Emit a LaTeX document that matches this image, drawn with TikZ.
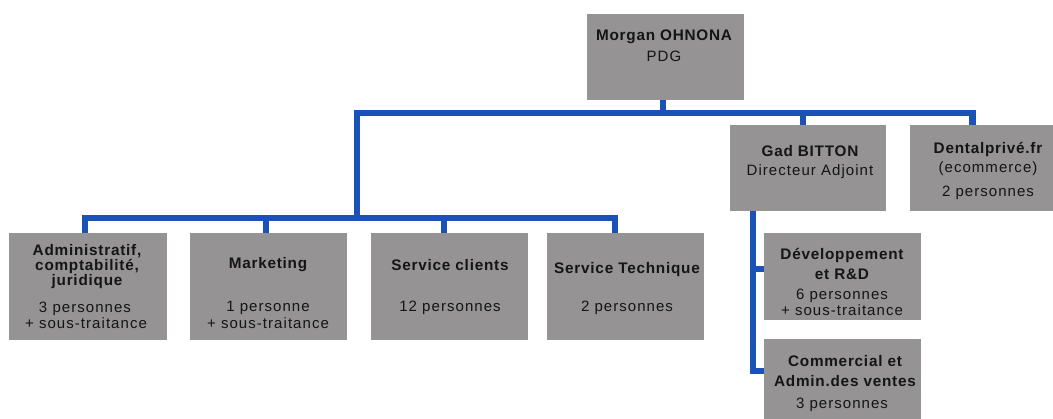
\documentclass[tikz,border=0pt]{standalone}
\usepackage{fontspec}
\setmainfont{Liberation Sans}
\newfontfamily\bodyfont{Liberation Sans}[LetterSpace=7]
\newfontfamily\headfont{Liberation Sans}[LetterSpace=5]
\definecolor{boxgray}{HTML}{959393}
\definecolor{linkblue}{HTML}{1B52B7}
\definecolor{textcol}{HTML}{151515}
\begin{document}
\begin{tikzpicture}[x=1pt,y=-1pt,
  orgbox/.style={draw=none,fill=boxgray,inner sep=0pt,anchor=north west},
  topbox/.style={orgbox,minimum width=157pt,minimum height=86pt},
  lowbox/.style={orgbox,minimum width=157pt,minimum height=107pt},
  link/.style={draw=linkblue,line width=6.5pt,line join=miter},
  txt/.style={inner sep=0pt,anchor=base,text=textcol,font={\bodyfont\fontsize{15pt}{18pt}\selectfont}},
  head/.style={inner sep=0pt,anchor=base,text=textcol,font={\headfont\bfseries\fontsize{15.3pt}{18pt}\selectfont}}]
\clip (0,0) rectangle (1053,418);
\useasboundingbox (0,0) rectangle (1053,418);
\fill[white] (0,0) rectangle (1053,418);

% boxes
\node[topbox] (pdg) at (587,14) {};
\node[topbox,minimum width=156pt] (gad) at (730,125) {};
\node[topbox] (dental) at (910,125) {};
\node[lowbox,minimum width=158pt] (admin) at (9,233) {};
\node[lowbox] (mkt) at (190,233) {};
\node[lowbox] (sc) at (371,233) {};
\node[lowbox] (st) at (547,233) {};
\node[orgbox,minimum width=157pt,minimum height=87pt] (dev) at (764,233) {};
\node[orgbox,minimum width=157pt,minimum height=90pt] (com) at (764,339) {};

% junctions
\coordinate (j1) at (357,113);
\coordinate (j2) at (357,218);

% connectors
\draw[link] ([xshift=-2.5pt]pdg.south) -- ([xshift=-2.5pt]pdg.south |- j1);
\draw[link] (j2) -- (j1) -| ([xshift=-16pt]dental.north);
\draw[link] ([xshift=-5pt]gad.north) -- ([xshift=-5pt]gad.north |- j1);
\draw[link] ([xshift=-3pt]admin.north) |- (j2) -| ([xshift=-10.5pt]st.north);
\draw[link] ([xshift=-2.5pt]mkt.north) -- ([xshift=-2.5pt]mkt.north |- j2);
\draw[link] ([xshift=-5.5pt]sc.north) -- ([xshift=-5.5pt]sc.north |- j2);
\draw[link] ([xshift=23pt]gad.south west) |- ([yshift=-32pt]com.north west);
\coordinate (gadline) at ([xshift=23pt]gad.south west);
\draw[link] ([yshift=-36pt]dev.north west) -- ([yshift=-36pt]dev.north west -| gadline);

% texts
\node[head] (pdg1) at (664,40) {Morgan OHNONA};
\node[txt]  (pdg2) at (664,61) {PDG};

\node[head] (gad1) at (810,156) {Gad BITTON};
\node[txt]  (gad2) at (810,175) {Directeur Adjoint};

\node[head] (den1) at (988,153) {Dentalprivé.fr};
\node[txt]  (den2) at (988,172) {(ecommerce)};
\node[txt]  (den3) at (988,196) {2 personnes};

\node[head] (adm1) at (87,255) {Administratif,};
\node[head] (adm2) at (87,270) {comptabilité,};
\node[head] (adm3) at (87,285) {juridique};
\node[txt]  (adm4) at (85,312) {3 personnes};
\node[txt]  (adm5) at (86,328) {+ sous-traitance};

\node[head] (mkt1) at (268,268) {Marketing};
\node[txt]  (mkt2) at (268,311) {1 personne};
\node[txt]  (mkt3) at (268,328) {+ sous-traitance};

\node[head] (sc1) at (450,270) {Service clients};
\node[txt]  (sc2) at (450,311) {12 personnes};

\node[head] (st1) at (627,273) {Service Technique};
\node[txt]  (st2) at (627,311) {2 personnes};

\node[head] (dev1) at (842,259) {Développement};
\node[head] (dev2) at (842,279) {et R\&D};
\node[txt]  (dev3) at (842,299) {6 personnes};
\node[txt]  (dev4) at (842,315) {+ sous-traitance};

\node[head] (com1) at (845,366) {Commercial et};
\node[head] (com2) at (845,386) {Admin.des ventes};
\node[txt]  (com3) at (842,408) {3 personnes};
\end{tikzpicture}
\end{document}
